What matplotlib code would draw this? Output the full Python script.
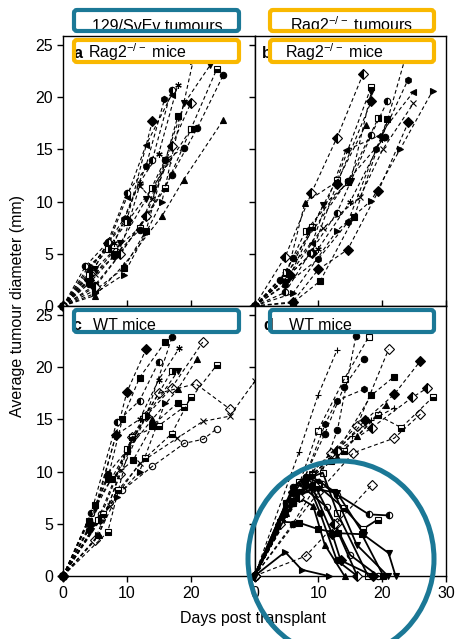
import matplotlib
matplotlib.use('Agg')
import matplotlib.pyplot as plt
import matplotlib.patches as mpatches
import matplotlib.transforms as mtransforms

plt.rcParams['font.family'] = ['Liberation Sans', 'DejaVu Sans']
plt.rcParams['mathtext.default'] = 'regular'

# ---- data (days post transplant, average tumour diameter in mm) ----
# panel a: 129/SvEv tumours in Rag2-/- mice
a_days = [
    [0, 5, 9, 13, 17, 21, 25.1],
    [0, 4, 8, 12, 16, 20, 24.1],
    [0, 5, 9, 13, 16, 19, 23.1],
    [0, 5, 9.5, 15.5, 18.9, 25.1],
    [0, 4, 8, 12, 15, 18],
    [0, 4, 7, 9.5, 13, 15.9],
    [0, 4, 7, 10, 14],
    [0, 4, 7, 10, 13, 17],
    [0, 5, 9, 12, 14, 16.5],
    [0, 5, 9.5, 13, 18],
    [0, 5, 9.5, 13, 15.5, 20.4],
    [0, 5, 9, 13, 17, 20],
    [0, 4, 8, 12, 16, 18.9],
    [0, 4, 7, 10, 14, 20],
    [0, 3.5, 7, 10, 14, 17],
]
a_diam = [
    [0, 2.0, 5.0, 8.6, 12.5, 17.0, 22.1],
    [0, 2.3, 5.3, 7.5, 11.3, 16.9, 22.7],
    [0, 3.5, 6.0, 10.2, 14.0, 19.4, 23.1],
    [0, 1.0, 3.9, 8.6, 12.1, 17.8],
    [0, 3.8, 6.0, 11.8, 14.6, 21.2],
    [0, 3.2, 6.0, 8.3, 13.4, 19.8],
    [0, 2.5, 6.0, 8.2, 17.7],
    [0, 3.5, 5.8, 10.4, 15.4, 20.2],
    [0, 3.1, 5.3, 11.5, 10.2, 14.0],
    [0, 1.5, 3.6, 7.2, 18.2],
    [0, 1.2, 3.0, 7.0, 10.0, 23.5],
    [0, 1.8, 5.0, 8.6, 15.3, 19.4],
    [0, 2.1, 4.8, 7.3, 14.0, 15.1],
    [0, 3.0, 5.5, 8.0, 11.3, 16.9],
    [0, 3.8, 6.1, 10.8, 14.0, 20.7],
]

# panel b: Rag2-/- tumours in Rag2-/- mice
b_days = [
    [0, 5, 10, 15, 20, 24.1],
    [0, 4.8, 10, 14.6, 19, 24.0],
    [0, 5, 9, 14.3, 19.5, 24.9],
    [0, 6, 12.9, 18.3, 22.8, 27.9],
    [0, 4.8, 10.8, 16.5, 20.1, 24.9],
    [0, 6, 10, 14.6, 19.4, 24.1],
    [0, 6, 10.3, 15.6, 20.8],
    [0, 4.8, 8.9, 12.9, 17.0],
    [0, 5, 7.9, 12.9, 17.4],
    [0, 4.8, 9, 12.9, 18.3],
    [0, 5, 10.8, 15.1, 18.3],
    [0, 5.5, 9, 12.9, 18.3],
    [0, 4.8, 8.7, 12.9, 18.3, 20.8],
    [0, 5, 8, 14.6, 19.4],
    [0, 4, 6.1, 14.6, 20.5],
]
b_diam = [
    [0, 2.8, 5.5, 10.0, 16.0, 24.8],
    [0, 2.0, 4.5, 8.0, 15.0, 21.6],
    [0, 2.6, 6.0, 14.9, 16.3, 20.5],
    [0, 1.2, 7.2, 10.1, 15.0, 20.6],
    [0, 3.0, 7.5, 10.4, 15.0, 19.4],
    [0, 0.4, 3.5, 5.4, 11.0, 17.6],
    [0, 0.3, 2.4, 8.5, 17.9],
    [0, 4.7, 10.8, 16.1, 22.2],
    [0, 2.8, 9.9, 11.9, 17.3],
    [0, 2.6, 7.6, 12.1, 21.0],
    [0, 2.2, 9.7, 12.0, 20.5],
    [0, 3.0, 5.1, 11.7, 19.6],
    [0, 1.3, 5.1, 8.9, 16.4, 19.6],
    [0, 3.3, 7.2, 11.9, 18.0],
    [0, 2.5, 4.6, 12.0, 16.2],
]

# panel c: 129/SvEv tumours in WT mice
c_days = [
    [0, 4, 7, 10, 13, 17.1],
    [0, 4, 7, 9.3, 12, 16],
    [0, 4.5, 8.3, 12, 15, 18.2],
    [0, 5, 9, 13, 17, 21.9],
    [0, 5.6, 10, 14, 18, 21],
    [0, 7, 10.8, 15, 19, 24.1],
    [0, 7.3, 12, 17.9, 21.9, 26.1, 30.1],
    [0, 4.3, 8.3, 10, 13.0],
    [0, 4.4, 8.4, 12, 15],
    [0, 6, 9.3, 14, 19, 22, 24.1],
    [0, 5, 10, 13, 18],
    [0, 5.8, 10.8, 15, 20.8, 26.1],
    [0, 6.2, 8.6, 12.9, 17, 20],
    [0, 5.5, 10, 12.9, 17],
    [0, 5, 7.6, 11, 14, 18],
    [0, 5.5, 8.4, 12, 16],
]
c_diam = [
    [0, 4.4, 9.8, 12.0, 15.3, 22.9],
    [0, 5.3, 9.3, 15.0, 19.0, 22.4],
    [0, 5.0, 13.5, 15.0, 18.8, 21.8],
    [0, 3.4, 9.8, 15.3, 18.0, 22.4],
    [0, 3.9, 12.0, 15.0, 17.9, 20.8],
    [0, 4.2, 13.3, 14.4, 16.2, 20.2],
    [0, 6.7, 10.8, 13.2, 14.8, 15.3, 18.7],
    [0, 5.0, 13.5, 17.6, 21.7],
    [0, 6.0, 14.7, 16.8, 20.5],
    [0, 5.9, 8.2, 10.5, 12.7, 13.1, 14.1],
    [0, 6.4, 12.0, 15.3, 19.6],
    [0, 5.5, 13.3, 17.5, 18.4, 16.0],
    [0, 5.9, 8.2, 11.3, 13.6, 17.1],
    [0, 5.4, 12.2, 15.3, 19.6],
    [0, 6.8, 9.3, 11.1, 14.4, 16.6],
    [0, 3.9, 7.6, 10.0, 16.6],
]

# panel d: Rag2-/- tumours in WT mice, progressors (dashed)
d_days = [
    [0, 6, 10, 13, 15.9],
    [0, 6, 9.9, 14.1, 17.9],
    [0, 7.0, 9.95, 12.9],
    [0, 6, 11, 14, 17.1],
    [0, 6, 12, 16.1, 21.0],
    [0, 8, 13, 17.3, 21.9, 26.0],
    [0, 8, 12, 18.3, 21.9],
    [0, 8, 13, 18.4, 24.7, 27.1],
    [0, 9, 14, 19.3, 23.0, 27.9],
    [0, 10, 15.5, 21.9, 26.0],
    [0, 8, 12.9, 16.1, 20.6],
    [0, 8, 12.9, 18.4],
    [0, 7, 11.1, 12.9, 17.2],
    [0, 9, 15.2, 18.3, 21.9],
]
d_diam = [
    [0, 5.0, 9.0, 14.0, 23.0],
    [0, 7.0, 13.9, 18.9, 22.9],
    [0, 11.9, 17.3, 21.6],
    [0, 7.0, 13.6, 18.1, 20.8],
    [0, 8.0, 11.8, 14.4, 21.7],
    [0, 9.0, 12.0, 14.9, 17.4, 20.6],
    [0, 9.0, 11.0, 17.3, 19.1],
    [0, 9.0, 12.0, 14.2, 17.1, 18.0],
    [0, 9.8, 12.0, 15.4, 14.2, 17.1],
    [0, 8.0, 11.8, 13.2, 15.5],
    [0, 9.0, 11.4, 13.4, 16.4],
    [0, 1.9, 5.1, 8.75],
    [0, 8.0, 14.6, 16.8, 17.9],
    [0, 10.0, 13.4, 14.9, 16.1],
]
# panel d: regressors (solid)
r_days = [
    [0, 5, 8, 10.5, 13, 17.9, 21.0],
    [0, 6, 10, 14, 17, 19.3],
    [0, 5, 9, 13, 17.2, 21.0, 22.1],
    [0, 4, 7, 9.9, 13.1, 16.8, 20.2],
    [0, 4.8, 7.4, 11.6],
    [0, 5, 7, 9.2, 11, 14.1],
    [0, 6, 8, 10.3, 12.9, 16.1],
    [0, 5, 7, 10.7, 13, 17.8],
    [0, 6, 9, 12.2, 13.5, 18.6],
    [0, 5, 8, 11.3, 15, 19.4],
    [0, 4, 7, 9.5, 12.5, 16.1],
    [0, 6, 8, 10, 12.5, 16, 20.9],
]
r_diam = [
    [0, 7.0, 9.5, 8.8, 7.8, 5.9, 5.8],
    [0, 7.5, 8.6, 6.5, 4.5, 5.4],
    [0, 6.0, 9.5, 7.9, 3.9, 2.2, 0],
    [0, 5.2, 5.1, 4.5, 4.1, 4.0, 0],
    [0, 2.3, 0.6, 0],
    [0, 6.0, 7.5, 6.7, 3.0, 0],
    [0, 8.5, 9.5, 6.0, 1.5, 0],
    [0, 7.0, 9.0, 9.9, 6.0, 0],
    [0, 8.0, 8.6, 4.0, 1.5, 0],
    [0, 6.5, 8.3, 6.6, 2.0, 0],
    [0, 5.0, 7.6, 8.6, 5.0, 0],
    [0, 7.0, 8.5, 8.3, 8.0, 3.0, 0],
]

# marker symbol per mouse, one list per panel
a_marks = ['o', 's_b', 'v', '^', 'ast', 'h', 'D', '<', 'x', 's', '>', 'D_l', 'o', 's_r', 'o_l']
b_marks = ['ast', 'h', '<', '>', 'x', 'D', 's', 'D_l', '^', 's_b', 'v', 'D', 'o_l', 's_r', 'o']
c_marks = ['o', 's', 'ast', 'D_n', '^', 's_b', 'x', 'D', 'o_l', 'o_n', 'v', 'D_n', 's_b',
           's_r', 's', '>']
d_marks = ['o', 's_n', '+', 'o', 'D_n', 'D', 's', 'D_l', 's_b', 'D_n', '^', 'D_n', 'h', '+']
r_marks = ['o_l', 's_b', 'v', 's', '>', '^', 'o', 's_n', 'D', 'o_n', 'D_l', 'v']

fills = {'': 'full', 'b': 'bottom', 'l': 'left', 'r': 'right', 'n': 'none'}


def draw(ax, days, diam, marks, ls, lw, z=2):
    for x, y, code in zip(days, diam, marks):
        m, _, f = code.partition('_')
        if m == 'ast':
            m = (6, 2, 0)
        ax.plot(x, y, color='black', lw=lw, ls=ls, marker=m, ms=4.6,
                fillstyle=fills[f], mfc='black', mec='black', mew=0.8,
                markerfacecoloralt='white', clip_on=False, zorder=z)


W, H = 462, 639
fig = plt.figure(figsize=(W / 100, H / 100), dpi=100)
axs = fig.subplots(2, 2, gridspec_kw=dict(hspace=0, wspace=0))
fig.subplots_adjust(left=63 / W, right=446 / W, top=1 - 36 / H, bottom=1 - 576 / H)

dash = (0, (3.5, 2.5))
draw(axs[0, 0], a_days, a_diam, a_marks, dash, 0.8)
draw(axs[0, 1], b_days, b_diam, b_marks, dash, 0.8)
draw(axs[1, 0], c_days, c_diam, c_marks, dash, 0.8)
draw(axs[1, 1], d_days, d_diam, d_marks, dash, 0.8)
draw(axs[1, 1], r_days, r_diam, r_marks, '-', 1.3, z=3)

for (r, c), ax in zip([(0, 0), (0, 1), (1, 0), (1, 1)], axs.flat):
    ax.set_xlim(0, 30)
    ax.set_ylim(0, 25.85)
    ax.set_xticks([0, 10, 20, 30] if c == 1 else [0, 10, 20])
    ax.set_yticks([0, 5, 10, 15, 20, 25])
    for s in ax.spines.values():
        s.set_linewidth(1.0)
    ax.tick_params(direction='out', length=4, width=1, labelsize=11.5, pad=3)
    if r == 0:
        ax.tick_params(axis='x', labelbottom=False, direction='in')
    if c == 1:
        ax.tick_params(axis='y', labelleft=False)

fig.text(18 / W, 1 - 306 / H, 'Average tumour diameter (mm)', rotation=90,
         ha='center', va='center', fontsize=11.5)
fig.text(253 / W, 1 - 619 / H, 'Days post transplant', ha='center', va='center',
         fontsize=11.5)

blue = '#1b7896'
orange = '#f9b800'
ident = mtransforms.IdentityTransform()


def box(x0, y0, x1, y1, color):
    # white fill under the text, coloured border over it (pixel coords, top-left origin)
    for fc, ec, z in [('white', 'none', 5), ('none', color, 7)]:
        p = mpatches.FancyBboxPatch((x0, H - y1), x1 - x0, y1 - y0,
                                    boxstyle='round,pad=0,rounding_size=3',
                                    fc=fc, ec=ec, lw=3.0, transform=ident, zorder=z)
        fig.add_artist(p)


def label(x, y, s, weight='normal', ha='left'):
    fig.text(x / W, 1 - y / H, s, ha=ha, va='baseline', fontsize=11.5,
             fontweight=weight, zorder=6)


rag = 'Rag2$^{-/-}$'
box(74, 10, 239, 31, blue)
label(157, 31, '129/SvEv tumours', ha='center')
box(270, 10, 434, 31, orange)
label(352, 31, rag + ' tumours', ha='center')

box(74, 40, 239, 62, orange)
label(74, 58, 'a', weight='bold')
label(88, 58, rag + ' mice')
box(270, 40, 434, 62, orange)
label(262, 58, 'b', weight='bold')
label(285, 58, rag + ' mice')

box(74, 310, 239, 332, blue)
label(72, 330, 'c', weight='bold')
label(93, 330, 'WT mice')
box(270, 310, 434, 332, blue)
label(263, 330, 'd', weight='bold')
label(289, 330, 'WT mice')

ring = mpatches.Ellipse((341, H - 559), 186, 196, fc='none', ec=blue, lw=3.6,
                        transform=ident, zorder=8)
fig.add_artist(ring)

fig.savefig('out.png', dpi=100)
